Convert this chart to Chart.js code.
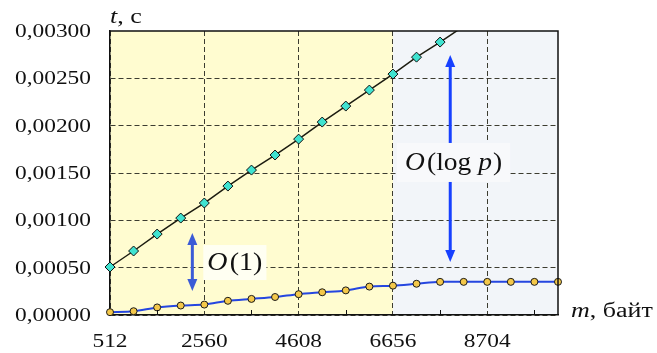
<!DOCTYPE html>
<html>
<head>
<meta charset="utf-8">
<script src="https://cdn.jsdelivr.net/npm/chart.js@4.4.0/dist/chart.umd.min.js"></script>
<style>
  body { margin: 0; background: #fff; }
</style>
</head>
<body>
<canvas id="chart" width="657" height="353"></canvas>
<script>
// Размер сообщения m, байт
const sizes = [512, 1024, 1536, 2048, 2560, 3072, 3584, 4096, 4608, 5120,
               5632, 6144, 6656, 7168, 7680, 8192, 8704, 9216, 9728, 10240];
// Время t, с — алгоритм O(log p) (ромбы)
const tLogP = [0.000507, 0.000676, 0.000855, 0.001024, 0.001183, 0.001362, 0.001531, 0.00169,
               0.001858, 0.002038, 0.002207, 0.002376, 0.002545, 0.002724, 0.002883, 0.00305];
// Время t, с — алгоритм O(1) (кружки)
const tConst = [0.00003, 0.00004, 0.00008, 0.0001, 0.00011, 0.00015, 0.00017, 0.00019, 0.00022, 0.00024,
                0.00026, 0.0003, 0.00031, 0.00033, 0.00035, 0.00035, 0.00035, 0.00035, 0.00035, 0.00035];
// Подписи осей
const xLabels = [512, 2560, 4608, 6656, 8704];
const xMinor = [1536, 3584, 5632, 7680, 9728];
const yTicks = [0, 0.0005, 0.001, 0.0015, 0.002, 0.0025, 0.003];

const X_MIN = 512, X_MAX = 10240, Y_MAX = 0.003;
const STRETCH = 1.3; // шрифт в оригинале растянут по горизонтали
const SERIF = "'Liberation Serif', 'Times New Roman', serif";

function fmtY(v) {
    return v.toFixed(5).replace('.', ',');
}

function stretchedText(ctx, text, x, y, align, font) {
    ctx.save();
    ctx.translate(x, y);
    ctx.scale(STRETCH, 1);
    ctx.font = font;
    ctx.textAlign = align;
    ctx.textBaseline = 'alphabetic';
    ctx.fillText(text, 0, 0);
    ctx.restore();
}

// Текст из частей (курсив / прямой), растянутый по горизонтали
function mathText(ctx, parts, x, y, size, sx) {
    ctx.save();
    ctx.translate(x, y);
    ctx.scale(sx, 1);
    ctx.textBaseline = 'alphabetic';
    ctx.textAlign = 'left';
    let cx = 0;
    parts.forEach(p => {
        ctx.font = (p.it ? 'italic ' : '') + size + 'px ' + SERIF;
        ctx.fillText(p.t, cx, 0);
        cx += ctx.measureText(p.t).width + (p.gap || 0);
    });
    ctx.restore();
    return cx * sx;
}

function measureMath(ctx, parts, size, sx) {
    let w = 0;
    parts.forEach(p => {
        ctx.font = (p.it ? 'italic ' : '') + size + 'px ' + SERIF;
        w += ctx.measureText(p.t).width + (p.gap || 0);
    });
    return w * sx;
}

function arrow(ctx, x, yA, yB, color, headA, headB) {
    const hl = 12, hw = 5;
    ctx.save();
    ctx.strokeStyle = color;
    ctx.fillStyle = color;
    ctx.lineWidth = 3;
    ctx.beginPath();
    ctx.moveTo(x, yA + (headA ? hl - 1 : 0));
    ctx.lineTo(x, yB - (headB ? hl - 1 : 0));
    ctx.stroke();
    if (headA) {
        ctx.beginPath();
        ctx.moveTo(x, yA);
        ctx.lineTo(x - hw, yA + hl);
        ctx.lineTo(x + hw, yA + hl);
        ctx.closePath();
        ctx.fill();
    }
    if (headB) {
        ctx.beginPath();
        ctx.moveTo(x, yB);
        ctx.lineTo(x - hw, yB - hl);
        ctx.lineTo(x + hw, yB - hl);
        ctx.closePath();
        ctx.fill();
    }
    ctx.restore();
}

const decorPlugin = {
    id: 'decor',
    beforeDraw(chart) {
        const { ctx, chartArea: a, scales: { x } } = chart;
        const xs = x.getPixelForValue(6656);
        ctx.save();
        ctx.fillStyle = '#fffcd0';
        ctx.fillRect(a.left, a.top, xs - a.left, a.bottom - a.top);
        ctx.fillStyle = '#f2f5f9';
        ctx.fillRect(xs, a.top, a.right - xs, a.bottom - a.top);
        ctx.restore();
    },
    afterDraw(chart) {
        const { ctx, chartArea: a, scales: { x, y } } = chart;
        ctx.save();
        // верхняя и правая рамки
        ctx.strokeStyle = '#111';
        ctx.lineWidth = 1.5;
        ctx.beginPath();
        ctx.moveTo(a.left, a.top);
        ctx.lineTo(a.right, a.top);
        ctx.lineTo(a.right, a.bottom);
        ctx.stroke();
        // промежуточные засечки
        ctx.lineWidth = 1;
        xMinor.forEach(v => {
            const px = Math.round(x.getPixelForValue(v)) + 0.5;
            ctx.beginPath();
            ctx.moveTo(px, a.bottom);
            ctx.lineTo(px, a.bottom - 5);
            ctx.stroke();
        });
        ctx.restore();

        // подписи делений
        ctx.fillStyle = '#111';
        const tickFont = '18px ' + SERIF;
        yTicks.forEach(v => {
            stretchedText(ctx, fmtY(v), a.left - 19, y.getPixelForValue(v) + 6, 'right', tickFont);
        });
        xLabels.forEach(v => {
            stretchedText(ctx, String(v), x.getPixelForValue(v), a.bottom + 32, 'center', tickFont);
        });

        // названия осей
        mathText(ctx, [{ t: 't', it: true }, { t: ', с' }], a.left, a.top - 8, 20, STRETCH);
        mathText(ctx, [{ t: 'm', it: true }, { t: ', байт' }], a.right + 13, a.bottom + 2, 20, STRETCH);

        // стрелки
        const ax1 = x.getPixelForValue(2300);
        arrow(ctx, ax1, y.getPixelForValue(0.000866), y.getPixelForValue(0.000253), '#3b5bd6', true, true);
        const ax2 = x.getPixelForValue(7900);
        arrow(ctx, ax2, y.getPixelForValue(0.002746), y.getPixelForValue(0.00056), '#1740ff', true, true);

        // метки сложности
        const lab1 = [{ t: 'O', it: true, gap: 2 }, { t: '(1)' }];
        const l1x = x.getPixelForValue(2625), l1y = y.getPixelForValue(0.000475);
        const w1 = measureMath(ctx, lab1, 25, 1.12);
        ctx.fillStyle = '#fffff2';
        ctx.fillRect(l1x - 4, l1y - 25, w1 + 8, 35);
        ctx.fillStyle = '#111';
        mathText(ctx, lab1, l1x, l1y, 25, 1.12);

        const lab2 = [{ t: 'O', it: true, gap: 2 }, { t: '(log ' }, { t: 'p', it: true, gap: 1 }, { t: ')' }];
        const l2x = x.getPixelForValue(6916), l2y = y.getPixelForValue(0.001532);
        const w2 = measureMath(ctx, lab2, 25, 1.1);
        ctx.fillStyle = '#f8f9fb';
        ctx.fillRect(l2x - 8, l2y - 27, w2 + 16, 39);
        ctx.fillStyle = '#111';
        mathText(ctx, lab2, l2x, l2y, 25, 1.1);
    }
};

const gridColor = '#3c3c30';

new Chart(document.getElementById('chart').getContext('2d'), {
    type: 'line',
    data: {
        datasets: [
            {
                label: 'O(1)',
                data: sizes.map((m, i) => ({ x: m, y: tConst[i] })),
                borderColor: '#2546e0',
                borderWidth: 2,
                tension: 0.3,
                pointStyle: 'circle',
                pointRadius: 3.5,
                pointBackgroundColor: '#f4c84a',
                pointBorderColor: '#1a1a1a',
                pointBorderWidth: 1,
                clip: false
            },
            {
                label: 'O(log p)',
                data: tLogP.map((t, i) => ({ x: sizes[i], y: t })),
                borderColor: '#1c1c10',
                borderWidth: 1.5,
                tension: 0,
                pointStyle: 'rectRot',
                pointRadius: c => (c.parsed && c.parsed.y > Y_MAX ? 0 : 5),
                pointBackgroundColor: '#3fe3d0',
                pointBorderColor: '#111',
                pointBorderWidth: 1,
                clip: { left: false, top: 0, right: false, bottom: false }
            }
        ]
    },
    options: {
        responsive: false,
        animation: false,
        layout: { padding: { top: 31, right: 99, left: 0, bottom: 0 } },
        plugins: { legend: { display: false }, tooltip: { enabled: false } },
        scales: {
            x: {
                type: 'linear',
                min: X_MIN,
                max: X_MAX,
                afterBuildTicks: s => { s.ticks = xLabels.map(v => ({ value: v })); },
                afterFit: s => { s.height = 38; },
                ticks: { display: false },
                grid: { color: gridColor, lineWidth: 1, drawTicks: false },
                border: { color: '#111', width: 1.5, dash: [5, 3] }
            },
            y: {
                min: 0,
                max: Y_MAX,
                afterBuildTicks: s => { s.ticks = yTicks.map(v => ({ value: v })); },
                afterFit: s => { s.width = 110; },
                ticks: { display: false },
                grid: {
                    color: c => (c.tick && c.tick.value >= Y_MAX ? 'rgba(0,0,0,0)' : gridColor),
                    lineWidth: 1,
                    drawTicks: false
                },
                border: { color: '#111', width: 1.5, dash: [5, 3] }
            }
        }
    },
    plugins: [decorPlugin]
});
</script>
</body>
</html>
